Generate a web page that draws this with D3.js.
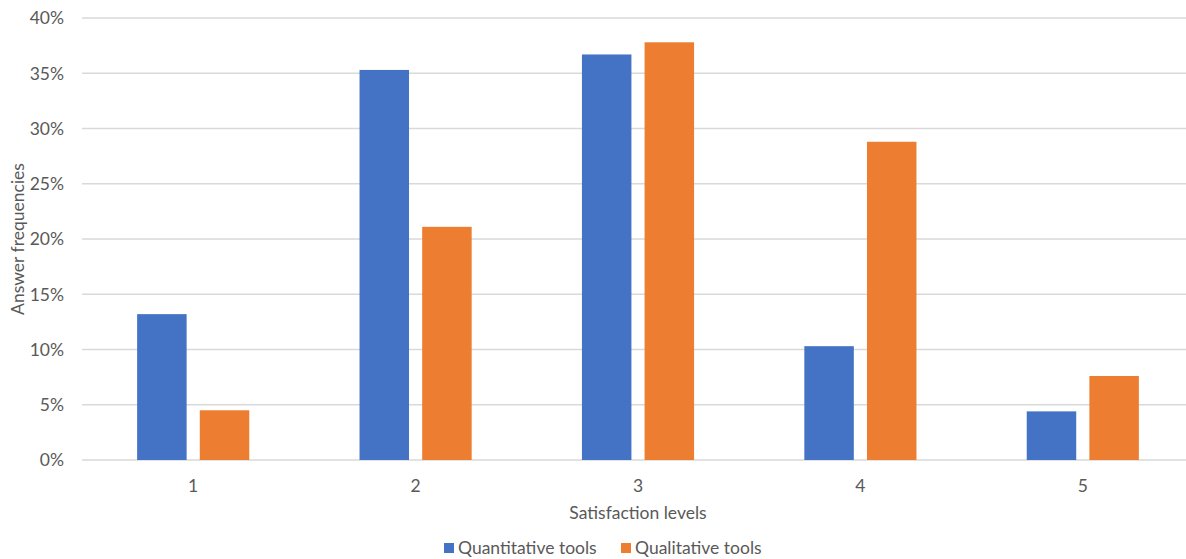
<!DOCTYPE html>
<html>
<head>
<meta charset="utf-8">
<script src="https://cdn.jsdelivr.net/npm/d3@7"></script>
<style>
  body { margin: 0; background: #fff; }
  text { font-family: Lato, "Open Sans", sans-serif; fill: #595959; }
</style>
</head>
<body>
<svg id="chart" width="1186" height="559"></svg>
<script>
var categories = ["1", "2", "3", "4", "5"];
var seriesNames = ["Quantitative tools", "Qualitative tools"];
var quantitative = [13.2, 35.3, 36.7, 10.3, 4.4];
var qualitative = [4.5, 21.1, 37.8, 28.8, 7.6];
var yTicks = [0, 5, 10, 15, 20, 25, 30, 35, 40];
var colors = ["#4472c4", "#ed7d31"];

var margin = { top: 18, left: 82 },
  w = 1112,
  h = 442;

var svg = d3.select("#chart");
var container = svg.append("g")
  .attr("transform", `translate(${margin.left},${margin.top})`);

var x_scale = d3.scaleBand()
  .domain(categories)
  .range([0, w]);

var x_inner = d3.scaleBand()
  .domain(seriesNames)
  .range([0, x_scale.bandwidth()])
  .paddingInner(0.21)
  .paddingOuter(0.88);

var y_scale = d3.scaleLinear()
  .domain([0, 40])
  .range([h, 0]);

// gridlines
container.append("g")
  .selectAll("line")
  .data(yTicks)
  .join("line")
  .attr("x1", 0)
  .attr("x2", w)
  .attr("y1", d => y_scale(d))
  .attr("y2", d => y_scale(d))
  .attr("stroke", "#d9d9d9")
  .attr("stroke-width", 1.3);

// y tick labels
container.append("g")
  .selectAll("text")
  .data(yTicks)
  .join("text")
  .attr("x", -18)
  .attr("y", d => y_scale(d))
  .attr("dy", "0.36em")
  .attr("text-anchor", "end")
  .style("font-size", "17.5px")
  .text(d => d + "%");

// bars
var data = categories.map((c, i) => ({ cat: c, vals: [quantitative[i], qualitative[i]] }));

var groups = container.append("g")
  .selectAll("g")
  .data(data)
  .join("g")
  .attr("transform", d => `translate(${x_scale(d.cat)},0)`);

groups.selectAll("rect")
  .data(d => d.vals.map((v, j) => ({ name: seriesNames[j], value: v, j: j })))
  .join("rect")
  .attr("x", d => x_inner(d.name))
  .attr("y", d => y_scale(d.value))
  .attr("width", x_inner.bandwidth())
  .attr("height", d => h - y_scale(d.value))
  .attr("fill", d => colors[d.j]);

// x labels
container.append("g")
  .selectAll("text")
  .data(categories)
  .join("text")
  .attr("x", d => x_scale(d) + x_scale.bandwidth() / 2)
  .attr("y", h + 32)
  .attr("text-anchor", "middle")
  .style("font-size", "17.5px")
  .text(d => d);

// axis titles
container.append("text")
  .attr("x", w / 2)
  .attr("y", h + 59)
  .attr("text-anchor", "middle")
  .style("font-size", "17.5px")
  .text("Satisfaction levels");

svg.append("text")
  .attr("transform", `translate(24, ${margin.top + h / 2}) rotate(-90)`)
  .attr("text-anchor", "middle")
  .style("font-size", "17.5px")
  .text("Answer frequencies");

// legend
var legendX = [444, 621];
var legend = svg.append("g")
  .selectAll("g")
  .data(seriesNames)
  .join("g")
  .attr("transform", (d, i) => `translate(${legendX[i]}, 543)`);

legend.append("rect")
  .attr("width", 10)
  .attr("height", 10)
  .attr("fill", (d, i) => colors[i]);

legend.append("text")
  .attr("x", 14)
  .attr("y", 11)
  .style("font-size", "17.5px")
  .text(d => d);
</script>
</body>
</html>
